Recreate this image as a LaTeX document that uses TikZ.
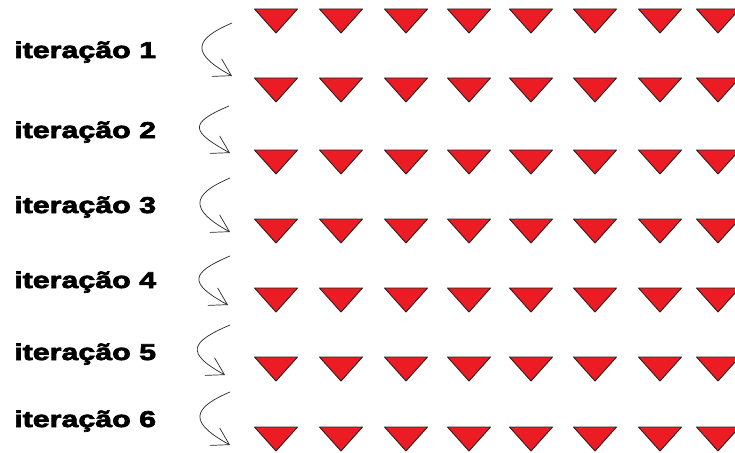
\documentclass[tikz,border=0pt]{standalone}
\usepackage{fontspec}
\usepackage{xcolor}
\usetikzlibrary{arrows.meta}
\newfontfamily\rotulofonte[FakeStretch=1.33,FakeBold=3]{Liberation Sans Bold}
\definecolor{vermelho}{RGB}{236,28,36}

\begin{document}
\begin{tikzpicture}[x=0.03cm,y=-0.03cm,
			rotulo/.style={anchor=base west, inner sep=0pt, font=\rotulofonte\fontsize{19.5}{21}\selectfont},
			triangulo/.style={fill=vermelho, draw=black!85, line width=0.8pt, line join=round},
			seta/.style={-{Straight Barb[length=5mm,width=6mm]}, line width=0.6pt, black!85}
		]
	\useasboundingbox (0,0) rectangle (735,452);
	\clip (0,0) rectangle (735,452);

	%Triangulos de cada linha
	\foreach \t in {9,78,150,219,288,357,427}{
		\foreach \x in {276,341,406,469,531,595,660,718}{
			\path[triangulo] (\x-21.5,\t) -- (\x+21.5,\t) -- (\x,\t+24) -- cycle;
		}
	}

	%Rotulos das iteracoes
		\node[rotulo] (it1) at (14,58) {iteração 1};
		\node[rotulo] (it2) at (14,138) {iteração 2};
		\node[rotulo] (it3) at (14,213) {iteração 3};
		\node[rotulo] (it4) at (14,288) {iteração 4};
		\node[rotulo] (it5) at (14,360) {iteração 5};
		\node[rotulo] (it6) at (14,427) {iteração 6};

	%Pontas das setas
		\coordinate (a1) at (232,23);  \coordinate (b1) at (232,76);
		\coordinate (a2) at (229,106); \coordinate (b2) at (230,153);
		\coordinate (a3) at (230,178); \coordinate (b3) at (230,232);
		\coordinate (a4) at (230,256); \coordinate (b4) at (228,305);
		\coordinate (a5) at (230,325); \coordinate (b5) at (225,375);
		\coordinate (a6) at (230,392); \coordinate (b6) at (230,445);

	%Setas entre as linhas
	\foreach \i in {1,...,6}{
		\draw[seta] (a\i) .. controls +(-40,17) and +(-40,-22) .. (b\i);
	}
\end{tikzpicture}
\end{document}
